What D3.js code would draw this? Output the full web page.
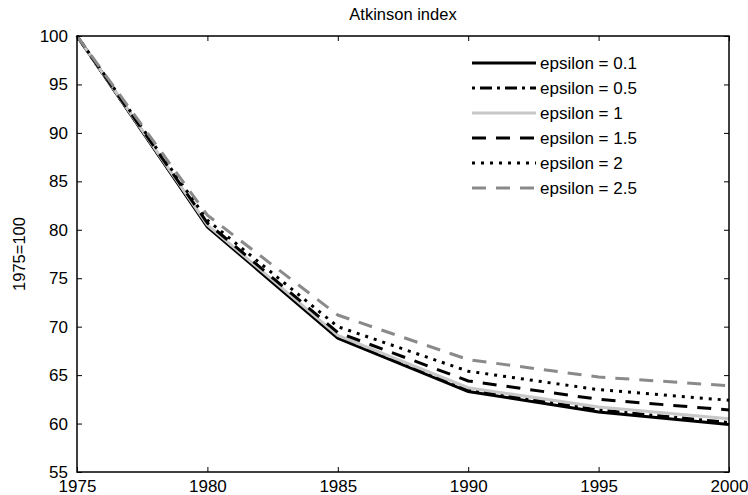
<!doctype html>
<html>
  <head>
    <title>Atkinson index</title>
    <style>
      html, body { margin: 0; padding: 0; background: #fff; }
      svg text { font-family: "Liberation Sans", Arial, sans-serif; fill: #000; }
    </style>
  </head>
  <body>
    <svg id="chart" width="748" height="495"></svg>
    <script src="https://d3js.org/d3.v7.min.js"></script>
    <script>
      // data
      var years = [1975, 1980, 1985, 1990, 1995, 2000];
      var eps01 = [100, 80.3, 68.8, 63.3, 61.2, 59.9];
      var eps05 = [100, 80.4, 69.0, 63.5, 61.4, 60.1];
      var eps1  = [100, 80.5, 69.1, 63.7, 61.7, 60.5];
      var eps15 = [100, 80.7, 69.4, 64.4, 62.5, 61.4];
      var eps2  = [100, 81.0, 70.0, 65.4, 63.5, 62.4];
      var eps25 = [100, 81.5, 71.2, 66.6, 64.8, 63.9];
      var labels = ["epsilon = 0.1", "epsilon = 0.5", "epsilon = 1", "epsilon = 1.5", "epsilon = 2", "epsilon = 2.5"];
      var xTicks = [1975, 1980, 1985, 1990, 1995, 2000];
      var yTicks = [55, 60, 65, 70, 75, 80, 85, 90, 95, 100];

      var series = [eps01, eps05, eps1, eps15, eps2, eps25];
      var styles = [
        {color: "#000", dash: null},
        {color: "#000", dash: "3,5,12,5"},
        {color: "#c8c8c8", dash: null},
        {color: "#000", dash: "14,10"},
        {color: "#000", dash: "3,6"},
        {color: "#8a8a8a", dash: "14,10"}
      ];

      var svg = d3.select("#chart");
      var pLeft = 77, pRight = 729, pTop = 36, pBottom = 472;

      var x = d3.scaleLinear().domain([1975, 2000]).range([pLeft, pRight]);
      var y = d3.scaleLinear().domain([55, 100]).range([pBottom, pTop]);

      // title
      svg.append("text")
        .attr("x", (pLeft + pRight) / 2).attr("y", 20)
        .attr("text-anchor", "middle")
        .style("font-size", "16.5px")
        .text("Atkinson index");

      // y label
      svg.append("text")
        .attr("transform", "translate(25," + ((pTop + pBottom) / 2) + ") rotate(-90)")
        .attr("text-anchor", "middle")
        .style("font-size", "16.5px")
        .text("1975=100");

      // lines
      var line = d3.line()
        .x(function(d, i) { return x(years[i]); })
        .y(function(d) { return y(d); });

      series.forEach(function(s, k) {
        svg.append("path")
          .datum(s)
          .attr("d", line)
          .attr("fill", "none")
          .attr("stroke", styles[k].color)
          .attr("stroke-width", 3)
          .attr("stroke-dasharray", styles[k].dash);
      });

      // axes with inside ticks
      svg.append("g")
        .attr("transform", "translate(0," + pBottom + ")")
        .call(d3.axisBottom(x).tickValues(xTicks).tickFormat(d3.format("d")).tickSizeInner(-5).tickSizeOuter(0).tickPadding(8))
        .call(function(g) {
          g.select(".domain").remove();
          g.selectAll("text").style("font-size", "17px");
        });
      svg.append("g")
        .attr("transform", "translate(0," + pTop + ")")
        .call(d3.axisTop(x).tickValues(xTicks).tickFormat("").tickSizeInner(-5).tickSizeOuter(0))
        .call(function(g) { g.select(".domain").remove(); });
      svg.append("g")
        .attr("transform", "translate(" + pLeft + ",0)")
        .call(d3.axisLeft(y).tickValues(yTicks).tickSizeInner(-5).tickSizeOuter(0).tickPadding(9))
        .call(function(g) {
          g.select(".domain").remove();
          g.selectAll("text").style("font-size", "17px");
        });
      svg.append("g")
        .attr("transform", "translate(" + pRight + ",0)")
        .call(d3.axisRight(y).tickValues(yTicks).tickFormat("").tickSizeInner(-5).tickSizeOuter(0))
        .call(function(g) { g.select(".domain").remove(); });

      svg.append("rect")
        .attr("x", pLeft).attr("y", pTop)
        .attr("width", pRight - pLeft).attr("height", pBottom - pTop)
        .attr("fill", "none").attr("stroke", "#000").attr("stroke-width", 1.5);

      // legend
      var legend = svg.append("g");
      labels.forEach(function(lab, k) {
        var ly = 63 + k * 25;
        legend.append("line")
          .attr("x1", 472).attr("x2", 536).attr("y1", ly).attr("y2", ly)
          .attr("stroke", styles[k].color)
          .attr("stroke-width", 3)
          .attr("stroke-dasharray", styles[k].dash);
        legend.append("text")
          .attr("x", 540).attr("y", ly)
          .attr("dy", "0.35em")
          .style("font-size", "17px")
          .text(lab);
      });
    </script>
  </body>
</html>
